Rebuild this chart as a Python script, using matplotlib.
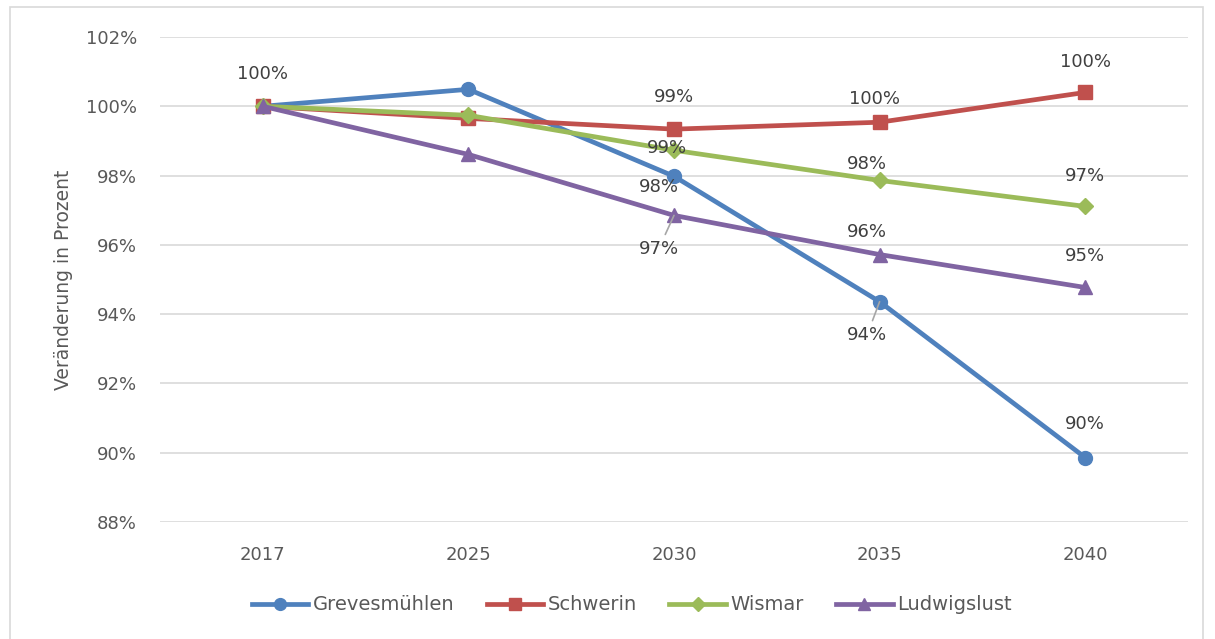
import matplotlib.pyplot as plt
from matplotlib.patches import Rectangle
from matplotlib.ticker import FuncFormatter

plt.rcParams['font.family'] = ['DejaVu Sans']

years = ['2017', '2025', '2030', '2035', '2040']
grevesmuehlen = [100.0, 100.49, 97.98, 94.36, 89.86]
schwerin = [100.0, 99.65, 99.34, 99.54, 100.40]
wismar = [100.0, 99.74, 98.73, 97.86, 97.11]
ludwigslust = [100.0, 98.61, 96.85, 95.72, 94.77]

names = ['Grevesmühlen', 'Schwerin', 'Wismar', 'Ludwigslust']
colors = ['#4F81BD', '#C0504D', '#9BBB59', '#8064A2']
markers = ['o', 's', 'D', '^']
msizes = [10, 10, 8.5, 10]
series = [grevesmuehlen, schwerin, wismar, ludwigslust]

# data labels: (series index, year index, offset in points (dx, dy), leader line)
labels = [
    (0, 0, (0, 23), False),
    (1, 2, (0, 23), False),
    (2, 2, (-5, 2), False),
    (0, 2, (-11, -8), False),
    (3, 2, (-11, -24), True),
    (1, 3, (-4, 17), False),
    (2, 3, (-9, 11.5), False),
    (3, 3, (-9, 16.5), False),
    (0, 3, (-9, -24), True),
    (1, 4, (0, 22), False),
    (2, 4, (0, 22), False),
    (3, 4, (0, 23), False),
    (0, 4, (0, 24), False),
]

fig = plt.figure(figsize=(12.15, 6.39), dpi=100)
fig.patches.append(Rectangle((10 / 1215, -0.01), 1193 / 1215, 1 - 7 / 639 + 0.01,
                             transform=fig.transFigure, fill=False,
                             edgecolor='#D9D9D9', linewidth=1.2))
ax = fig.add_axes([160 / 1215, 1 - 522 / 639, 1028 / 1215, 485 / 639])

x = list(range(len(years)))
for s, n, c, m, ms in zip(series, names, colors, markers, msizes):
    ax.plot(x, s, color=c, lw=3.4, marker=m, markersize=ms, label=n, zorder=3)

for si, yi, (dx, dy), leader in labels:
    val = series[si][yi]
    ax.annotate('%d%%' % round(val), xy=(yi, val), xytext=(dx, dy),
                textcoords='offset points', ha='center', va='center',
                fontsize=13, color='#404040', zorder=4,
                arrowprops=dict(arrowstyle='-', color='#A6A6A6', lw=1.2,
                                shrinkA=2, shrinkB=0) if leader else None)

ax.set_xlim(-0.5, 4.5)
ax.set_ylim(88, 102)
ax.set_xticks(x)
ax.set_xticklabels(years)
ax.set_yticks(range(88, 103, 2))
ax.yaxis.set_major_formatter(FuncFormatter(lambda v, p: '%d%%' % v))
ax.tick_params(length=0, labelsize=13, labelcolor='#595959')
ax.tick_params(axis='x', pad=17)
ax.tick_params(axis='y', pad=16.5)
ax.grid(axis='y', color='#D9D9D9', lw=1.2)
ax.set_axisbelow(True)
for sp in ax.spines.values():
    sp.set_visible(False)

ax.set_ylabel('Veränderung in Prozent', fontsize=13.5, color='#595959', labelpad=9)

ax.legend(loc='center', bbox_to_anchor=(632 / 1215, 1 - 605 / 639),
          bbox_transform=fig.transFigure, ncol=4, frameon=False,
          fontsize=14, labelcolor='#595959', handlelength=2.9, handletextpad=0.25,
          columnspacing=1.65, markerscale=0.85)

fig.savefig('out.png', dpi=100)
